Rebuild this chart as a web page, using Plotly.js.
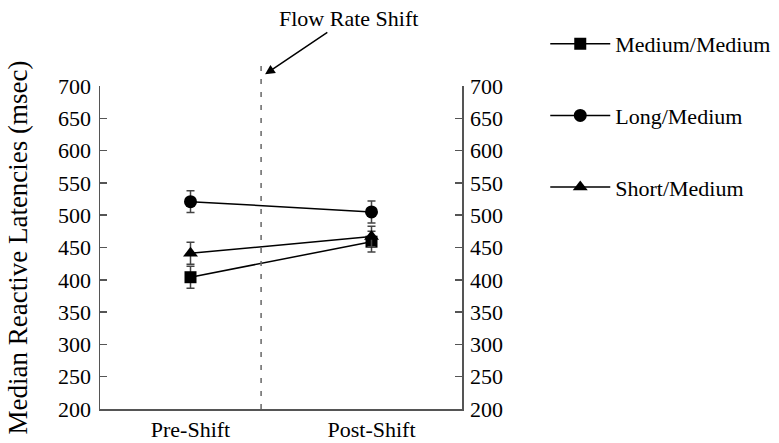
<!DOCTYPE html>
<html>
<head>
<meta charset="utf-8">
<script src="https://cdn.plot.ly/plotly-3.0.1.min.js"></script>
<style>html,body{margin:0;padding:0;background:#fff;}#chart{width:779px;height:443px;}</style>
</head>
<body>
<div id="chart"></div>
<script>
const categories = ['Pre-Shift', 'Post-Shift'];
const seriesNames = ['Medium/Medium', 'Long/Medium', 'Short/Medium'];
const mediumMedium = [404, 459];
const mediumMediumErr = [17, 16];
const longMedium = [521, 505];
const longMediumErr = [17, 17];
const shortMedium = [441, 467];
const shortMediumErr = [17, 16];
const yTicks = [200, 250, 300, 350, 400, 450, 500, 550, 600, 650, 700];

const FONT = 'Liberation Serif, Times New Roman, serif';
const symbols = ['square', 'circle', 'triangle-up'];
const sizes = [12, 13, 13];
const vals = [mediumMedium, longMedium, shortMedium];
const errs = [mediumMediumErr, longMediumErr, shortMediumErr];

const traces = seriesNames.map((name, i) => ({
  type: 'scatter', mode: 'lines+markers', name: name,
  x: categories, y: vals[i], legendgroup: 'g' + i,
  line: {color: '#000', width: 1.5},
  marker: {symbol: symbols[i], size: sizes[i], color: '#000'},
  error_y: {type: 'data', array: errs[i], visible: true, color: '#444', thickness: 1.5, width: 4},
  hoverinfo: 'x+y+name'
}));
// invisible trace to activate right axis
traces.push({type: 'scatter', mode: 'markers', x: categories, y: mediumMedium, yaxis: 'y2',
  marker: {opacity: 0}, showlegend: false, hoverinfo: 'skip'});

const yaxBase = {
  range: [200, 700], tickvals: yTicks, ticktext: yTicks.map(String),
  showgrid: false, zeroline: false, showline: true, linecolor: '#555', linewidth: 1.5,
  ticks: 'inside', ticklen: 7, tickwidth: 1.5, tickcolor: '#555',
  tickfont: {family: FONT, size: 22, color: '#000'}, fixedrange: true, automargin: false
};

const layout = {
  width: 779, height: 443,
  margin: {l: 100, r: 317, t: 86, b: 34, autoexpand: false},
  paper_bgcolor: '#fff', plot_bgcolor: '#fff',
  font: {family: FONT, color: '#000'},
  showlegend: true,
  legend: {x: 1.23, y: 1.195, xanchor: 'left', yanchor: 'top', tracegroupgap: 40, itemwidth: 60,
    font: {family: FONT, size: 22, color: '#000'}, bgcolor: 'rgba(0,0,0,0)'},
  xaxis: {
    type: 'category', range: [-0.5, 1.5], showgrid: false, zeroline: false,
    showline: true, linecolor: '#555', linewidth: 1.5, ticks: '',
    tickfont: {family: FONT, size: 22, color: '#000'}, fixedrange: true, automargin: false
  },
  yaxis: Object.assign({}, yaxBase, {
    side: 'left', ticklabelstandoff: 3,
    title: {text: 'Median Reactive Latencies (msec)', font: {family: FONT, size: 27, color: '#000'}, standoff: 22}
  }),
  yaxis2: Object.assign({}, yaxBase, {side: 'right', overlaying: 'y', ticklabelstandoff: 2}),
  shapes: [{
    type: 'line', xref: 'x', yref: 'paper', x0: 0.39, x1: 0.39, y0: 0, y1: 1.08,
    line: {color: '#666', width: 1.5, dash: '5px,8px'}
  }],
  annotations: [{
    text: 'Flow Rate Shift', xref: 'paper', yref: 'paper',
    x: 0.456, y: 1.036, ax: 83, ay: -56, axref: 'pixel', ayref: 'pixel',
    showarrow: true, arrowhead: 2, arrowsize: 1.3, arrowwidth: 1.5, arrowcolor: '#000',
    font: {family: FONT, size: 22, color: '#000'}
  }]
};

Plotly.newPlot('chart', traces, layout, {displayModeBar: false, staticPlot: true});
</script>
</body>
</html>
